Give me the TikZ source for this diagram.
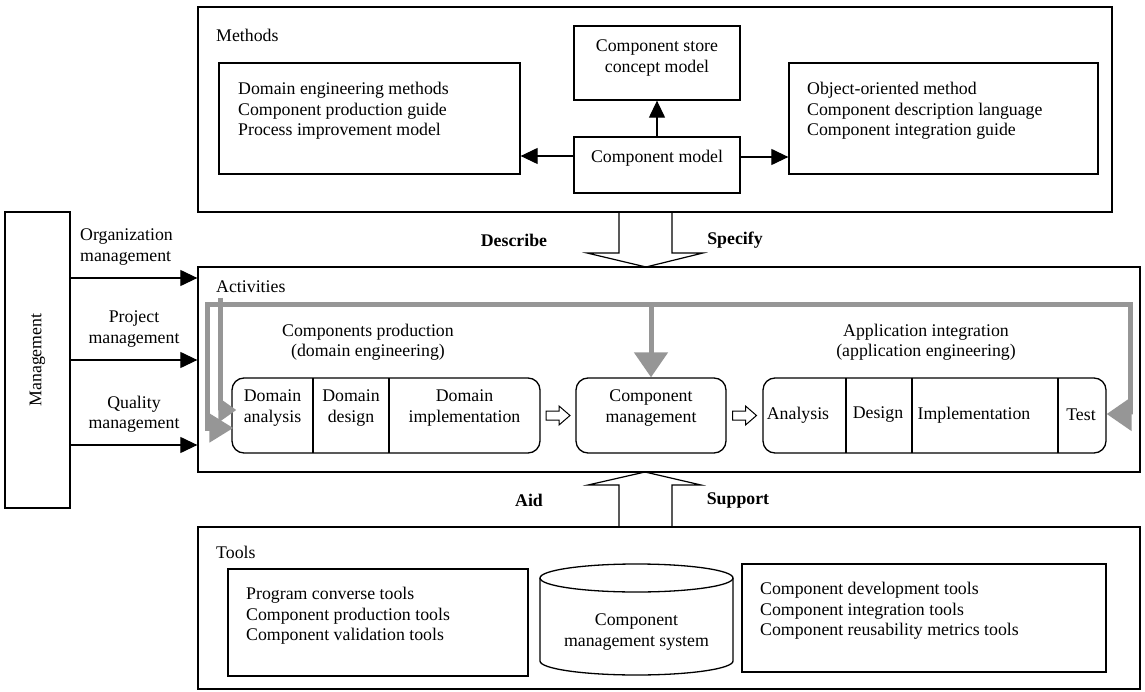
\documentclass[tikz,border=0pt]{standalone}
\usepackage{fontspec}
\setmainfont{Liberation Serif}
\usetikzlibrary{arrows.meta,calc}
\definecolor{garr}{RGB}{150,150,150}
\begin{document}
\begin{tikzpicture}[x=1pt,y=-1pt,
  font=\fontsize{17.8}{20.5}\selectfont,
  box/.style n args={2}{draw, line width=1.3pt, inner sep=0pt, minimum width=#1, minimum height=#2},
  rbox/.style n args={2}{box={#1}{#2}, rounded corners=12pt},
  txt/.style={inner sep=0pt, align=left, anchor=west},
  ctxt/.style={inner sep=0pt, align=center},
  blk/.style={line width=1.2pt, -{Triangle[length=17pt,width=16pt]}},
  gline/.style={draw=garr, line width=5pt, line join=miter},
  gtip/.style={-{Triangle[length=25pt,width=33pt]}},
  gtipsmall/.style={-{Triangle[length=18pt,width=24pt]}},
  hol/.style={line width=1.2pt, line join=miter},
  divl/.style={line width=1.2pt}
]
\useasboundingbox (0,0) rectangle (1145,692);

% ---------- Methods ----------
\node[box={914pt}{205pt}] (methods) at (655,109.5) {};
\node[txt] (methodsl) at (216,35) {Methods};
\node[box={301pt}{111pt}] (m1) at (369.5,118.5) {};
\node[txt] (m1t) at (238,111) {Domain engineering methods\\Component production guide\\Process improvement model};
\node[box={166pt}{74pt}] (store) at (657,63) {};
\node[ctxt] (storet) at (657,58) {Component store\\concept model};
\node[box={166pt}{56pt}] (cm) at (657,165) {};
\node[ctxt] (cmt) at (657,158) {Component model};
\node[box={309pt}{111pt}] (m2) at (943.5,118.5) {};
\node[txt] (m2t) at (807,111) {Object-oriented method\\Component description language\\Component integration guide};

\draw[blk] (cm.north) -- (store.south);
\draw[blk] ([yshift=9pt]cm.west) -- ([yshift=9pt]cm.west -| m1.east);
\draw[blk] ([yshift=8pt]cm.east) -- ([yshift=8pt]cm.east -| m2.west);

% ---------- Activities ----------
\node[box={942pt}{205pt}] (act) at (669,369.5) {};
\node[txt] (actl) at (216,287) {Activities};

% Describe / Specify hollow arrow
\coordinate (dtip) at (646,267);
\draw[hol] (619,212) -- (619,253) -- (587,253) -- (dtip) -- (703,253) -- (672,253) -- (672,212);
\node[ctxt] (describe) at (514,240) {\textbf{Describe}};
\node[ctxt] (specify) at (735,240) {\textbf{Specify}};

% Management
\node[box={65pt}{296pt}] (mgmt) at (37.5,360) {};
\node[ctxt, rotate=90] (mgmtt) at (37.5,360) {Management};
\coordinate (y1) at (0,278);
\coordinate (y2) at (0,360);
\coordinate (y3) at (0,445);
\draw[blk] (mgmt.east |- y1) -- (act.west |- y1);
\draw[blk] (mgmt.east |- y2) -- (act.west |- y2);
\draw[blk] (mgmt.east |- y3) -- (act.west |- y3);
\node[txt] (orgl) at (80,247) {Organization\\management};
\node[ctxt] (projl) at (134,329) {Project\\management};
\node[ctxt] (quall) at (134,414) {Quality\\management};

% Domain engineering group
\node[ctxt] (cpt) at (368,342) {Components production\\(domain engineering)};
\node[rbox={308pt}{75pt}] (dom) at (386,415.5) {};
\draw[divl] (313,378) -- (313,453);
\draw[divl] (389,378) -- (389,453);
\node[ctxt] (da) at (272.5,408) {Domain\\analysis};
\node[ctxt] (dd) at (351,408) {Domain\\design};
\node[ctxt] (di) at (464.5,408) {Domain\\implementation};

% Component management
\node[rbox={150pt}{75pt}] (cmg) at (651,415.5) {};
\node[ctxt] (cmgt) at (651,408) {Component\\management};

% Application group
\node[ctxt] (ait) at (926,342) {Application integration\\(application engineering)};
\node[rbox={343pt}{75pt}] (app) at (934.5,415.5) {};
\draw[divl] (846,378) -- (846,453);
\draw[divl] (912,378) -- (912,453);
\draw[divl] (1058,378) -- (1058,453);
\node[ctxt] (aa) at (798,415) {Analysis};
\node[ctxt] (ad) at (878,415) {Design};
\node[ctxt] (aim) at (974,415) {Implementation};
\node[ctxt] (at) at (1081,415) {Test};

% small hollow arrows
\coordinate (h1) at ($(dom.east)!0.5!(cmg.west)$);
\coordinate (h2) at ($(cmg.east)!0.5!(app.west)$);
\foreach \h in {h1,h2}{
  \draw[line width=1pt, line join=miter] ($(\h)+(-12,-4.5)$) -- ++(13,0) -- ++(0,-5) -- ++(11,9.5) -- ++(-11,9.5) -- ++(0,-5) -- ++(-13,0) -- cycle;
}

% gray feedback arrows
\coordinate (gtop) at (0,305);
\coordinate (gl1) at (0,428);
\coordinate (gl2) at (0,410);
\coordinate (gr1) at (0,414);
\draw[gline, {Triangle[length=24pt,width=28pt]}-{Triangle[length=25pt,width=33pt]}]
  ([xshift=2pt]dom.west |- gl1) -- (207,428) -- (207,305) -- (1130,305) -- (1130,414) -- (app.east |- gr1);
\draw[gline, gtipsmall] (220,298) -- (220,410) -- ([xshift=5pt]dom.west |- gl2);
\draw[gline, gtip] (cmg.north |- gtop) -- (cmg.north);

% ---------- Aid / Support ----------
\coordinate (atip) at (645,472);
\draw[hol] (619,526) -- (619,485) -- (588,485) -- (atip) -- (701,485) -- (672,485) -- (672,526);
\node[ctxt] (aid) at (529,500) {\textbf{Aid}};
\node[ctxt] (support) at (738,500) {\textbf{Support}};

% ---------- Tools ----------
\node[box={942pt}{162pt}] (tools) at (669,608) {};
\node[txt] (toolsl) at (216,552) {Tools};
\node[box={300pt}{107pt}] (t1) at (378,622.5) {};
\node[txt] (t1t) at (246,616) {Program converse tools\\Component production tools\\Component validation tools};
\draw[line width=1.3pt] (540,578) -- (540,661) arc[start angle=180, end angle=0, x radius=96.5, y radius=14] -- (733,578);
\draw[line width=1.3pt] (636.5,578) ellipse[x radius=96.5, y radius=14];
\node[ctxt] (cms) at (636.5,632) {Component\\management system};
\node[box={364pt}{108pt}] (t3) at (924,618) {};
\node[txt] (t3t) at (760,611) {Component development tools\\Component integration tools\\Component reusability metrics tools};
\end{tikzpicture}
\end{document}
